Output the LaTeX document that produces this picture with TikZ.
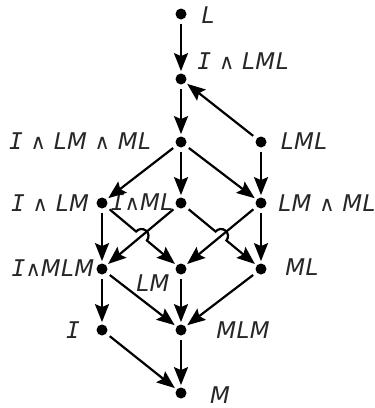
\documentclass[tikz,border=0pt]{standalone}
\usepackage{fontspec}
\setmainfont{DejaVu Sans}
\newfontfamily\lblfont[LetterSpace=2]{DejaVu Sans}
\newfontfamily\monofnt{DejaVu Sans Mono}
\usetikzlibrary{arrows.meta,calc}
% small wedge and serifed I used in the labels
\newcommand\wsym{{\fontsize{10.5}{11}\selectfont\upshape ∧}}
\newcommand\Ii{{\monofnt\itshape I}}
\begin{document}
\begin{tikzpicture}[x=0.5pt,y=-0.5pt,
  dot/.style={circle,fill=black,inner sep=0pt,minimum size=5.5pt},
  lbl/.style={font=\lblfont\itshape\fontsize{11.5}{13}\selectfont,inner sep=0pt,text=black!85},
  edge/.style={line width=1.1pt,-{Stealth[length=9pt,width=7pt,inset=1.5pt]},
    shorten <=2pt,shorten >=1pt}]
\useasboundingbox (0,0) rectangle (375,408);

% lattice points
\node[dot] (L)     at (181,14)  {};
\node[dot] (ILML)  at (181,79)  {};
\node[dot] (ILMML) at (181,142) {};
\node[dot] (LML)   at (261,142) {};
\node[dot] (ILM)   at (102,203) {};
\node[dot] (IML)   at (181,203) {};
\node[dot] (LMML)  at (261,203) {};
\node[dot] (IMLM)  at (102,269) {};
\node[dot] (LM)    at (181,269) {};
\node[dot] (ML)    at (261,269) {};
\node[dot] (I)     at (102,330) {};
\node[dot] (MLM)   at (181,330) {};
\node[dot] (M)     at (181,393) {};

% labels
\node[lbl] (tL)     at (208,15)  {L};
\node[lbl] (tILML)  at (243,61)  {\Ii{} \wsym{} LML};
\node[lbl] (tILMML) at (80,141)  {\Ii{} \wsym{} LM \wsym{} ML};
\node[lbl] (tLML)   at (304,141) {LML};
\node[lbl] (tILM)   at (50,203)  {\Ii{} \wsym{} LM};
\node[lbl] (tIML)   at (142,202) {\Ii\wsym ML};
\node[lbl] (tLMML)  at (327,203) {LM \wsym{} ML};
\node[lbl] (tIMLM)  at (53,268)  {\Ii\wsym MLM};
\node[lbl] (tLM)    at (153,283) {LM};
\node[lbl] (tML)    at (302,267) {ML};
\node[lbl] (tI)     at (73,330)  {\Ii};
\node[lbl] (tMLM)   at (243,330) {MLM};
\node[lbl] (tM)     at (220,395) {M};

% order arrows
\draw[edge] (L) -- (ILML);
\draw[edge] (ILML) -- (ILMML);
\draw[edge] (LML) -- (ILML);
\draw[edge] (ILMML) -- (ILM);
\draw[edge] (ILMML) -- (IML);
\draw[edge] (ILMML) -- (LMML);
\draw[edge] (LML) -- (LMML);
\draw[edge] (ILM) -- (IMLM);
\draw[edge] (IML) -- (IMLM);
\draw[edge] (LMML) -- (LM);
\draw[edge] (LMML) -- (ML);
\draw[edge] (IMLM) -- (I);
\draw[edge] (IMLM) -- (MLM);
\draw[edge] (LM) -- (MLM);
\draw[edge] (ML) -- (MLM);
\draw[edge] (I) -- (M);
\draw[edge] (MLM) -- (M);

% arrows that hop over a crossing
\coordinate (X1) at (intersection of ILM--LM and IML--IMLM);
\coordinate (X2) at (intersection of IML--ML and LMML--LM);
\draw[edge] let \p1=($(LM)-(ILM)$), \n1={atan2(\y1,\x1)} in
  (ILM) -- ($(X1)!3.5pt!(ILM)$) arc[start angle=\n1+180,delta angle=-180,radius=3.5pt] -- (LM);
\draw[edge] let \p1=($(ML)-(IML)$), \n1={atan2(\y1,\x1)} in
  (IML) -- ($(X2)!3.5pt!(IML)$) arc[start angle=\n1+180,delta angle=-180,radius=3.5pt] -- (ML);
\end{tikzpicture}
\end{document}
